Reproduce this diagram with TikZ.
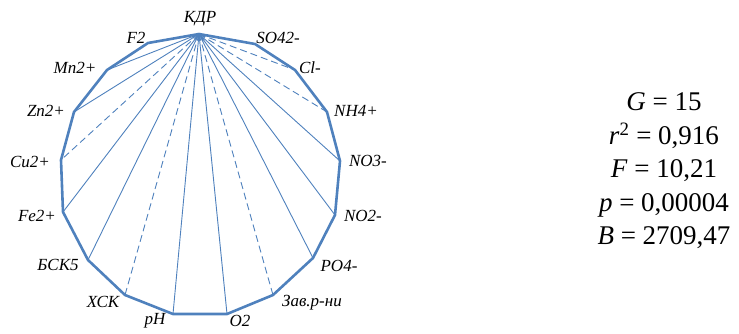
\documentclass[tikz,border=0pt]{standalone}
\usepackage{fontspec}
\setmainfont{LiberationSerif}[Extension=.ttf, UprightFont=*-Regular, ItalicFont=*-Italic, BoldFont=*-Bold, BoldItalicFont=*-BoldItalic]
\usepackage{tikz}
\usetikzlibrary{positioning}
\definecolor{rimblue}{HTML}{4F81BD}

\begin{document}
\begin{tikzpicture}[
    x=1pt, y=-1pt,
    rim/.style={draw=rimblue, line width=2.6pt, line join=round},
    spoke/.style={draw=rimblue, line width=0.9pt},
    spokedash/.style={spoke, dash pattern=on 7pt off 4pt},
    lbl/.style={font=\fontsize{17}{19}\selectfont\itshape, inner sep=0pt},
]
\useasboundingbox (0,0) rectangle (739,333);

% vertices of the polygon
\coordinate (kdr) at (199,34);
\coordinate (so)  at (255,44);
\coordinate (cl)  at (295,70);
\coordinate (nh)  at (327,112);
\coordinate (nothree) at (340,161);
\coordinate (notwo)   at (335,215);
\coordinate (po)  at (313,258);
\coordinate (zav) at (273,295);
\coordinate (ot)  at (227,314);
\coordinate (ph)  at (173,314);
\coordinate (xsk) at (125,295);
\coordinate (bsk) at (88,260);
\coordinate (fe)  at (63,212);
\coordinate (cu)  at (61,160);
\coordinate (zn)  at (74,112);
\coordinate (mn)  at (107,70);
\coordinate (f)   at (148,43);

% spokes from KDR
\draw[spoke] (kdr) -- (so) (kdr) -- (nothree) (kdr) -- (notwo) (kdr) -- (po)
    (kdr) -- (ot) (kdr) -- (ph) (kdr) -- (bsk) (kdr) -- (fe) (kdr) -- (zn)
    (kdr) -- (mn) (kdr) -- (f);
\draw[spokedash] (kdr) -- (cl) (kdr) -- (nh) (kdr) -- (zav) (kdr) -- (xsk)
    (kdr) -- (cu);

% outline
\draw[rim] (kdr) -- (so) -- (cl) -- (nh) -- (nothree) -- (notwo) -- (po)
    -- (zav) -- (ot) -- (ph) -- (xsk) -- (bsk) -- (fe) -- (cu) -- (zn)
    -- (mn) -- (f) -- cycle;

% labels
\node[lbl] (kdrlbl) at (200,19) {КДР};
\node[lbl] (solbl) at (278,38) {SO42-};
\node[lbl] (cllbl) at (310,68) {Cl-};
\node[lbl] (nhlbl) at (356,111) {NH4+};
\node[lbl] (nothreelbl) at (368,161) {NO3-};
\node[lbl] (notwolbl) at (363,216) {NO2-};
\node[lbl] (polbl) at (339,266) {PO4-};
\node[lbl] (zavlbl) at (312,303) {Зав.р-ни};
\node[lbl] (otlbl) at (240,321) {O2};
\node[lbl] (phlbl) at (155,321) {pH};
\node[lbl] (xsklbl) at (103,302) {ХСК};
\node[lbl] (bsklbl) at (58,265) {БСК5};
\node[lbl] (felbl) at (37,216) {Fe2+};
\node[lbl] (culbl) at (30,162) {Cu2+};
\node[lbl] (znlbl) at (46,111) {Zn2+};
\node[lbl] (mnlbl) at (75,68) {Mn2+};
\node[lbl] (flbl) at (136,38) {F2};

% statistics
\node[align=center, inner sep=0pt, font=\fontsize{27}{33.5}\selectfont] (stats) at (664,171) {%
    \textit{G} = 15\\
    \textit{r}\textsuperscript{2} = 0,916\\
    \textit{F} = 10,21\\
    \textit{p} = 0,00004\\
    \textit{B} = 2709,47%
};

\end{tikzpicture}
\end{document}
